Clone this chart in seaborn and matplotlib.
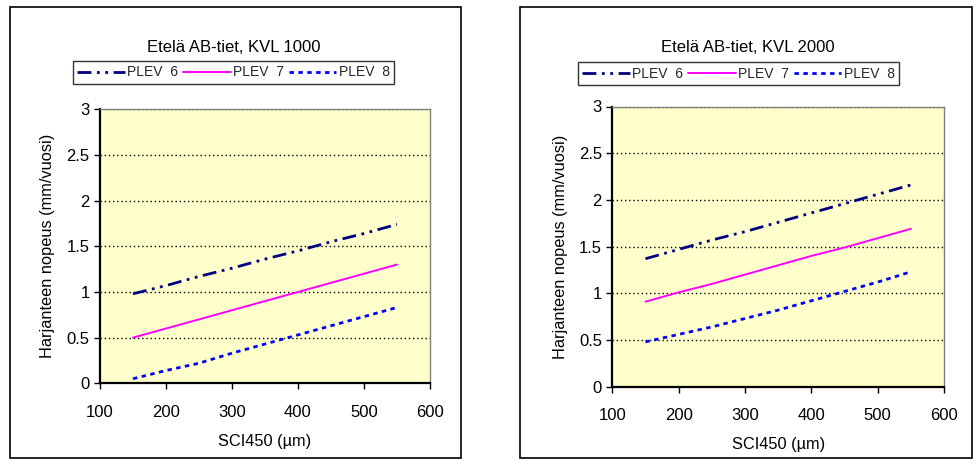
import matplotlib
matplotlib.use("Agg")
import matplotlib.pyplot as plt
import seaborn as sns
from matplotlib.patches import Rectangle
from matplotlib.lines import Line2D

sns.set_theme(style="white")
plt.rcParams['font.family'] = ['Liberation Sans', 'DejaVu Sans']

# ---- data ----
sci450 = [150, 200, 250, 300, 350, 400, 450, 500, 550]
series_names = ["PLEV  6", "PLEV  7", "PLEV  8"]

titles = ["Etelä AB-tiet, KVL 1000", "Etelä AB-tiet, KVL 2000"]

kvl1000_plev6 = [0.98, 1.07, 1.17, 1.26, 1.36, 1.45, 1.55, 1.64, 1.74]
kvl1000_plev7 = [0.50, 0.60, 0.70, 0.80, 0.90, 1.00, 1.10, 1.20, 1.30]
kvl1000_plev8 = [0.05, 0.14, 0.22, 0.33, 0.43, 0.53, 0.63, 0.73, 0.83]

kvl2000_plev6 = [1.37, 1.47, 1.57, 1.66, 1.76, 1.86, 1.96, 2.06, 2.16]
kvl2000_plev7 = [0.91, 1.01, 1.10, 1.20, 1.30, 1.40, 1.49, 1.59, 1.69]
kvl2000_plev8 = [0.48, 0.56, 0.64, 0.73, 0.82, 0.92, 1.02, 1.12, 1.23]

xticks = [100, 200, 300, 400, 500, 600]
yticks = [0, 0.5, 1, 1.5, 2, 2.5, 3]
ytick_labels = ["0", "0.5", "1", "1.5", "2", "2.5", "3"]

colors = ["#000080", "#FF00FF", "#0000FF"]
styles = [(0, (5, 2, 1, 2, 1, 2)), "-", (0, (1.6, 1.6))]
widths = [2.0, 1.4, 2.0]

W, H = 976, 462
fig = plt.figure(figsize=(W / 100, H / 100), dpi=100)
fig.patch.set_facecolor("white")

def fx(px):
    return px / W

def fy(py):
    return 1 - py / H

panels = [
    dict(data=[kvl1000_plev6, kvl1000_plev7, kvl1000_plev8],
         frame=(10, 7, 461, 458), axes=(100, 109.3, 430, 383.3),
         title_xy=(234, 47), legend_xy=(233.5, 72.5)),
    dict(data=[kvl2000_plev6, kvl2000_plev7, kvl2000_plev8],
         frame=(520, 7, 972, 458), axes=(612.3, 106.5, 944, 386.7),
         title_xy=(748, 47), legend_xy=(738.5, 73.5)),
]

for i, p in enumerate(panels):
    x0, y0, x1, y1 = p["frame"]
    fig.patches.append(Rectangle((fx(x0), fy(y1)), fx(x1) - fx(x0), fy(y0) - fy(y1),
                                 transform=fig.transFigure, fill=False,
                                 edgecolor="black", linewidth=1.2, zorder=0))
    ax0, ay0, ax1, ay1 = p["axes"]
    ax = fig.add_axes([fx(ax0), fy(ay1), fx(ax1) - fx(ax0), fy(ay0) - fy(ay1)])
    ax.set_facecolor("#FFFFCC")
    for vals, name, c, ls, lw in zip(p["data"], series_names, colors, styles, widths):
        sns.lineplot(x=sci450, y=vals, ax=ax, color=c, linestyle=ls, linewidth=lw,
                     label=name, legend=False)
    ax.set_xlim(100, 600)
    ax.set_ylim(0, 3)
    ax.set_xticks(xticks)
    ax.set_yticks(yticks)
    ax.set_yticklabels(ytick_labels)
    for yv in yticks[1:]:
        ax.axhline(yv, color="black", linestyle=(0, (1, 2)), linewidth=1.0, zorder=0.5)
    ax.tick_params(axis="both", direction="out", length=4.5, width=1, colors="black",
                   labelsize=12, pad=3, left=True, bottom=True)
    ax.tick_params(axis="x", pad=11)
    for s in ["left", "bottom"]:
        ax.spines[s].set_color("black")
        ax.spines[s].set_linewidth(1.6)
    for s in ["top", "right"]:
        ax.spines[s].set_color("#808080")
        ax.spines[s].set_linewidth(1.0)
    ax.set_xlabel("SCI450 (µm)", fontsize=11.8, labelpad=10, color="black")
    ax.set_ylabel("Harjanteen nopeus (mm/vuosi)", fontsize=11.8, labelpad=8, color="black")
    ax.grid(False)

    fig.text(fx(p["title_xy"][0]), fy(p["title_xy"][1]), titles[i], ha="center",
             va="center", fontsize=12, color="black")
    handles = [Line2D([], [], color=c, linestyle=ls, linewidth=lw)
               for c, ls, lw in zip(colors, styles, widths)]
    leg = fig.legend(handles, series_names, loc="center",
                     bbox_to_anchor=(fx(p["legend_xy"][0]), fy(p["legend_xy"][1])),
                     ncol=3, fontsize=10, frameon=True, fancybox=False,
                     handlelength=3.4, handletextpad=0.15, columnspacing=0.4,
                     borderpad=0.35, borderaxespad=0)
    leg.get_frame().set_edgecolor("black")
    leg.get_frame().set_linewidth(1.0)

fig.savefig("out.png", dpi=100, facecolor="white")
